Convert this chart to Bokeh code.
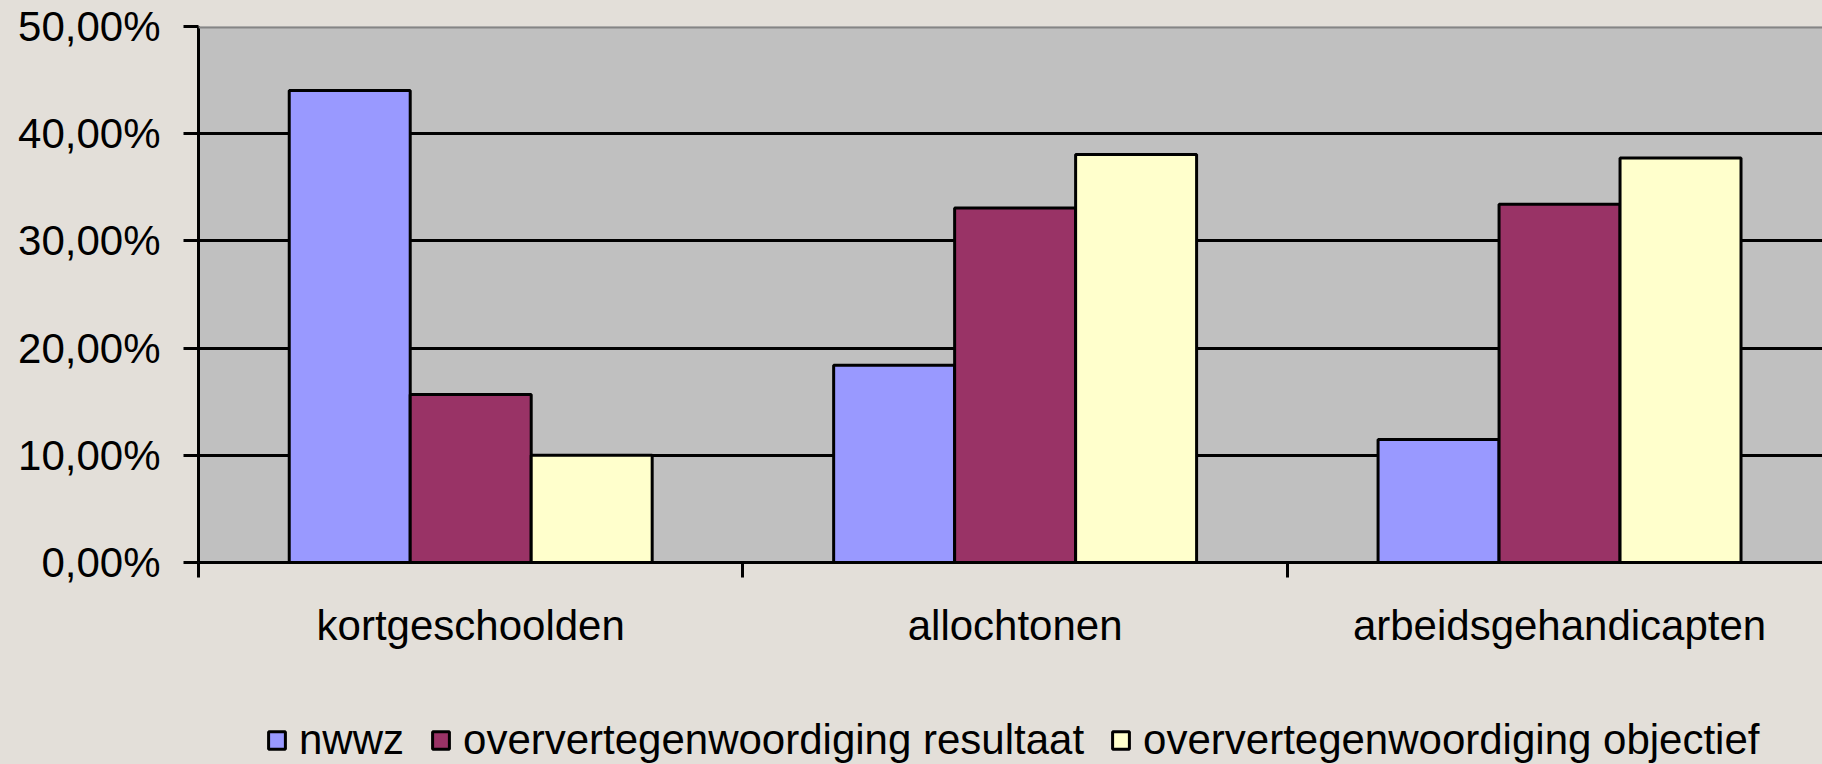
from bokeh.plotting import figure
from bokeh.layouts import column
from bokeh.models import Range1d, FixedTicker, Span, ColumnDataSource, Legend
from bokeh.transform import dodge
from bokeh.embed import file_html
from bokeh.resources import INLINE

# ---- data ----
categories = ["kortgeschoolden", "allochtonen", "arbeidsgehandicapten"]
series_names = ["nwwz", "oververtegenwoordiging resultaat", "oververtegenwoordiging objectief"]
nwwz = [44.04, 18.40, 11.47]
resultaat = [15.66, 33.06, 33.41]
objectief = [10.00, 38.07, 37.73]
y_ticks = [0, 10, 20, 30, 40, 50]
y_tick_labels = ["0,00%", "10,00%", "20,00%", "30,00%", "40,00%", "50,00%"]
colors = ["#9999FF", "#993366", "#FFFFCC"]

FONT = "Liberation Sans"
BG = "#E3DFD9"
BAR_W = 1 / 4.5

cat_index = list(range(len(categories)))
centers = [i + 0.5 for i in cat_index]
boundaries = cat_index + [len(categories)]

source = ColumnDataSource(dict(x=centers, nwwz=nwwz, resultaat=resultaat, objectief=objectief))
cols = ["nwwz", "resultaat", "objectief"]
offsets = [-BAR_W, 0, BAR_W]

p = figure(width=1822, height=706, output_backend="svg", toolbar_location=None,
           x_range=Range1d(0, 2.983), y_range=Range1d(0, 50),
           min_border_left=198, min_border_right=0, min_border_top=26,
           min_border_bottom=144)

p.background_fill_color = "#C0C0C0"
p.border_fill_color = BG
p.outline_line_color = None

# grid
p.xgrid.visible = False
p.ygrid.ticker = FixedTicker(ticks=y_ticks[1:-1])
p.ygrid.grid_line_color = "black"
p.ygrid.grid_line_width = 3

top_border = Span(location=y_ticks[-1], dimension="width", line_color="#858585", line_width=4)
p.add_layout(top_border)

for col, off, color in zip(cols, offsets, colors):
    p.vbar(x=dodge("x", off), top=col, width=BAR_W, bottom=0, source=source,
           fill_color=color, line_color="black", line_width=3)

# y axis
ya = p.yaxis[0]
ya.ticker = FixedTicker(ticks=y_ticks, minor_ticks=[])
ya.major_label_overrides = dict(zip(y_ticks, y_tick_labels))
ya.major_label_text_font = FONT
ya.major_label_text_font_size = "42px"
ya.major_label_text_color = "black"
ya.major_tick_out = 15
ya.major_tick_in = 0
ya.major_tick_line_width = 3
ya.major_tick_line_color = "black"
ya.axis_line_width = 3
ya.axis_line_color = "black"
ya.major_label_standoff = 23

# x axis
xa = p.xaxis[0]
xa.ticker = FixedTicker(ticks=centers, minor_ticks=boundaries)
xa.major_label_overrides = dict(zip(centers, categories))
xa.major_label_text_font = FONT
xa.major_label_text_font_size = "42px"
xa.major_label_text_color = "black"
xa.major_tick_out = 0
xa.major_tick_in = 0
xa.minor_tick_out = 15
xa.minor_tick_in = 0
xa.minor_tick_line_width = 3
xa.minor_tick_line_color = "black"
xa.axis_line_width = 3
xa.axis_line_color = "black"
xa.major_label_standoff = 24

# ---- legend strip below the chart ----
# proxy bars (muted to full transparency) that only feed the legend glyphs
p2 = figure(width=1822, height=58, output_backend="svg", toolbar_location=None,
            x_range=Range1d(0, 3), y_range=Range1d(-2, -1),
            x_axis_location=None, y_axis_location=None,
            min_border_left=0, min_border_right=0, min_border_top=0, min_border_bottom=0)
p2.background_fill_color = BG
p2.border_fill_color = BG
p2.outline_line_color = None
p2.grid.visible = False

legend_renderers = []
for col, off, color in zip(cols, offsets, colors):
    r = p2.vbar(x=dodge("x", off), top=col, width=BAR_W, bottom=0, source=source,
                fill_color=color, line_color="black", line_width=3,
                muted_fill_alpha=0, muted_line_alpha=0)
    r.muted = True
    legend_renderers.append(r)

lg = Legend(items=[(name, [r]) for name, r in zip(series_names, legend_renderers)],
            orientation="horizontal", location=(68, 0), click_policy="none")
lg.background_fill_alpha = 0
lg.border_line_alpha = 0
lg.padding = 0
lg.margin = 0
lg.spacing = 26
lg.glyph_width = 21
lg.glyph_height = 22
lg.label_standoff = 12
lg.label_text_font = FONT
lg.label_text_font_size = "42px"
lg.label_text_color = "black"
p2.add_layout(lg, "center")

layout = column(p, p2, spacing=0)

html = file_html(layout, INLINE, title="chart")
html = html.replace("</head>", "<style>html,body{background:%s;}</style></head>" % BG, 1)
open("out.html", "w").write(html)
